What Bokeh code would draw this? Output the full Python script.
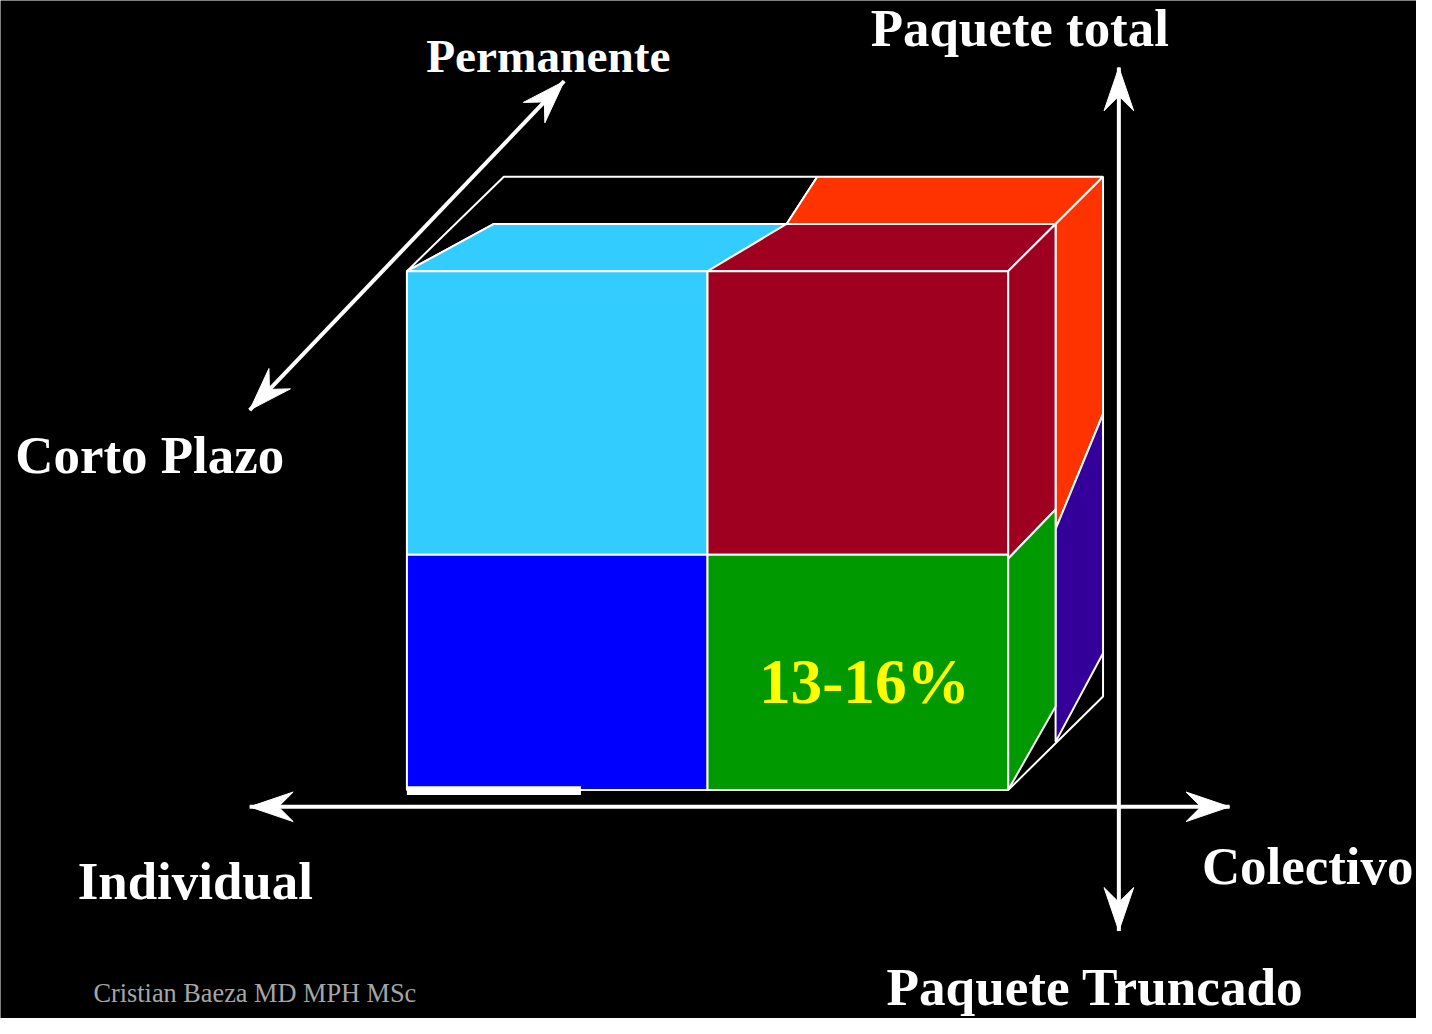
import math
from bokeh.plotting import figure
from bokeh.models import Range1d
from bokeh.embed import file_html
from bokeh.resources import INLINE
from bokeh.core.properties import value

# ---- Cube faces (projected polygon vertices, reference pixel coordinates) ----
face_names = [
    "Permanente / Individual (top, empty)",
    "Permanente / Colectivo (top)",
    "Permanente / Colectivo / Paquete total (side)",
    "Permanente / Colectivo / Paquete truncado (side)",
    "Corto plazo / Individual (top)",
    "Corto plazo / Colectivo (top)",
    "Corto plazo / Colectivo / Paquete total (side)",
    "Corto plazo / Colectivo / Paquete truncado (side)",
    "Individual / Paquete total",
    "Colectivo / Paquete total",
    "Individual / Paquete truncado",
    "Colectivo / Paquete truncado",
]
face_xs = [
    [411, 509, 826, 795, 499],
    [826, 1115, 1067, 795],
    [1067, 1115, 1115, 1067],
    [1067, 1115, 1115, 1067],
    [411, 499, 795, 715],
    [715, 795, 1067, 1019],
    [1019, 1067, 1067, 1019],
    [1019, 1067, 1067, 1019],
    [411, 715, 715, 411],
    [715, 1019, 1019, 715],
    [411, 715, 715, 411],
    [715, 1019, 1019, 715],
]
face_ys = [
    [275, 179, 179, 227, 227],
    [179, 179, 227, 227],
    [227, 179, 420, 537],
    [537, 420, 663, 753],
    [275, 227, 227, 275],
    [275, 227, 227, 275],
    [275, 227, 517, 567],
    [567, 517, 717, 802],
    [275, 275, 563, 563],
    [275, 275, 563, 563],
    [563, 563, 802, 802],
    [563, 563, 802, 802],
]
face_colors = [
    "#000000", "#FF3300", "#FF3300", "#330099",
    "#33CCFF", "#A00020", "#A00020", "#009900",
    "#33CCFF", "#A00020", "#0000FF", "#009900",
]

# back-bottom outline of the cube
edge_x = [1115, 1115, 1019]
edge_y = [663, 707, 802]

# white bar at the bottom-left
bar_x = [411, 587]
bar_y = [798, 807]

# ---- Axis arrows (both ends have heads) ----
arrow_x0 = [252, 1131, 252]
arrow_y0 = [819, 68, 416]
arrow_x1 = [1243, 1131, 570]
arrow_y1 = [819, 945, 82]
HEAD_LEN, HEAD_WID, HEAD_NOTCH = 44, 30, 29

# ---- Labels ----
label_text = ["Permanente", "Paquete total", "Corto Plazo", "Individual",
              "Colectivo", "Paquete Truncado", "13-16%", "Cristian Baeza MD MPH MSc"]
label_x = [554, 880, 15, 78, 1215, 896, 767, 94]
label_y = [56, 28, 462, 894, 879, 1003, 692, 1009]
label_align = ["center", "left", "left", "left", "left", "left", "left", "left"]
label_size = [47.8, 53.5, 53.5, 53.5, 53.5, 53.8, 64.0, 26.6]
label_style = ["bold"] * 7 + ["normal"]
label_color = ["#FFFFFF"] * 6 + ["#FFFF00", "#A6A6A6"]

W, H = 1416, 1018
REF_W, REF_H = 1432, 1034
k = W / REF_W

p = figure(width=W, height=H, output_backend="svg", toolbar_location=None,
           x_range=Range1d(0, REF_W), y_range=Range1d(REF_H, 0),
           background_fill_color="black", border_fill_color="black",
           min_border=0, outline_line_color=None)
p.axis.visible = False
p.grid.visible = False

p.patches(face_xs, face_ys, fill_color=face_colors, line_color="white", line_width=2)
p.line(edge_x, edge_y, line_color="white", line_width=2)
p.quad(left=bar_x[0], right=bar_x[1], top=bar_y[0], bottom=bar_y[1],
       fill_color="white", line_color=None)

# shafts
p.segment(x0=arrow_x0, y0=arrow_y0, x1=arrow_x1, y1=arrow_y1,
          line_color="white", line_width=4)

# notched heads at both ends, computed from the arrow endpoints
head_xs, head_ys = [], []
for xa, ya, xb, yb in zip(arrow_x0, arrow_y0, arrow_x1, arrow_y1):
    for (tx, ty), (ox, oy) in (((xa, ya), (xb, yb)), ((xb, yb), (xa, ya))):
        d = math.hypot(ox - tx, oy - ty)
        ux, uy = (ox - tx) / d, (oy - ty) / d
        nx, ny = -uy, ux
        head_xs.append([tx,
                        tx + HEAD_LEN * ux + HEAD_WID / 2 * nx,
                        tx + HEAD_NOTCH * ux,
                        tx + HEAD_LEN * ux - HEAD_WID / 2 * nx])
        head_ys.append([ty,
                        ty + HEAD_LEN * uy + HEAD_WID / 2 * ny,
                        ty + HEAD_NOTCH * uy,
                        ty + HEAD_LEN * uy - HEAD_WID / 2 * ny])
p.patches(head_xs, head_ys, fill_color="white", line_color="white", line_width=1)

for t, x, y, a, s, st, c in zip(label_text, label_x, label_y, label_align,
                                label_size, label_style, label_color):
    p.text(x=[x], y=[y], text=[t], text_align=a, text_baseline="alphabetic",
           text_font=value("Liberation Serif"), text_font_size=f"{s * k:.1f}px",
           text_font_style=st, text_color=c)

open("out.html", "w").write(file_html(p, INLINE))
